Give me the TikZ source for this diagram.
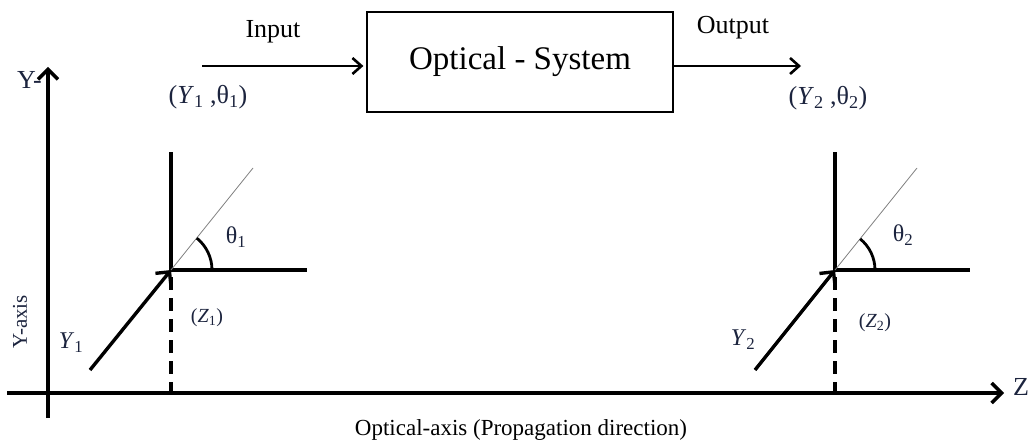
\documentclass[tikz,border=0pt]{standalone}
\usepackage{fontspec}
\setmainfont{Liberation Serif}
\usetikzlibrary{arrows.meta}
\definecolor{lbl}{RGB}{28,36,62}
\tikzset{
  thickln/.style={line width=3.4pt},
  barb/.style={-{Straight Barb[length=10pt,width=20pt]}},
  thinbarb/.style={-{Straight Barb[length=9pt,width=16pt]}},
  lab/.style={inner sep=0pt, text=lbl},
  fs/.style={font=\fontsize{#1}{#1}\selectfont},
  diag/.style={line width=0.8pt, draw=gray},
  dashln/.style={line width=3.4pt, dash pattern=on 13pt off 8pt},
}
\begin{document}
\begin{tikzpicture}[x=1pt,y=-1pt]
\useasboundingbox (0,0) rectangle (1035,441);
% axes
\coordinate (ybot) at (48,418);
\coordinate (ytop) at (48,67);
\coordinate (zleft) at (7,393);
\coordinate (zright) at (1004,393);
\draw[thickln, barb] (ybot) -- (ytop);
\draw[thickln, barb] (zleft) -- (zright);
\node[lab, fs=26, anchor=east] (ylab) at (42,80) {Y-};
\node[lab, fs=26] (zlab) at (1021,387) {Z};
\node[lab, fs=21, rotate=90] (yaxislab) at (20,322) {Y-axis};
\node[lab, fs=23, text=black] (optaxis) at (521,430) {Optical-axis (Propagation direction)};

% optical system
\node[draw, line width=1.2pt, minimum width=306pt, minimum height=100pt, inner sep=0pt, fs=33] (sys) at (520,62) {Optical - System};
\coordinate (inS) at (202,66);
\coordinate (outE) at (801,66);
\draw[line width=2.6pt, thinbarb, shorten >=3pt] (inS) -- (inS -| sys.west);
\draw[line width=2.6pt, thinbarb] (outE -| sys.east) -- (outE);
\node[fs=26] (input) at (273,32) {Input};
\node[fs=26] (output) at (733,28) {Output};
\node[lab, fs=26] (in1) at (208,97) {(\textit{Y}\textsubscript{1} ,θ\textsubscript{1})};
\node[lab, fs=26] (out2) at (828,98) {(\textit{Y}\textsubscript{2} ,θ\textsubscript{2})};

% left element
\coordinate (P1) at (171,270);
\coordinate (P1t) at (171,152);
\coordinate (P1r) at (307,270);
\coordinate (P1d) at (253,168);
\coordinate (P1s) at (90,370);
\coordinate (P1b) at (171,393);
\draw[thickln] (P1t) -- (P1) -- (P1r);
\draw[diag] (P1) -- (P1d);
\draw[line width=2.8pt] (P1) ++(41pt,0pt) arc[start angle=0, end angle=51, radius=41pt];
\draw[thickln, barb] (P1s) -- (P1);
\draw[dashln] (P1) ++(0,7) -- (P1b);
\node[lab, fs=24] (th1) at (236,237) {θ\textsubscript{1}};
\node[lab, fs=24] (y1) at (71,343) {\textit{Y}\textsubscript{1}};
\node[lab, fs=20] (z1) at (207,318) {(\textit{Z}\textsubscript{1})};

% right element
\coordinate (P2) at (835,270);
\coordinate (P2t) at (835,152);
\coordinate (P2r) at (970,270);
\coordinate (P2d) at (917,168);
\coordinate (P2s) at (755,370);
\coordinate (P2b) at (835,393);
\draw[thickln] (P2t) -- (P2) -- (P2r);
\draw[diag] (P2) -- (P2d);
\draw[line width=2.8pt] (P2) ++(40pt,0pt) arc[start angle=0, end angle=51, radius=40pt];
\draw[thickln, barb] (P2s) -- (P2);
\draw[dashln] (P2) ++(0,7) -- (P2b);
\node[lab, fs=24] (th2) at (903,235) {θ\textsubscript{2}};
\node[lab, fs=24] (y2) at (743,340) {\textit{Y}\textsubscript{2}};
\node[lab, fs=20] (z2) at (875,323) {(\textit{Z}\textsubscript{2})};
\end{tikzpicture}
\end{document}
